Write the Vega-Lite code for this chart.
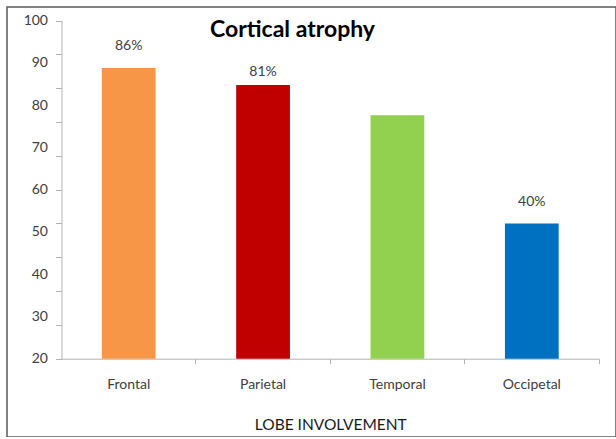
{
  "$schema": "https://vega.github.io/schema/vega-lite/v6.json",
  "autosize": "none",
  "padding": {"left": 7, "top": 7, "right": 0, "bottom": 0},
  "width": 609,
  "height": 430,
  "background": "white",
  "config": {"view": {"stroke": "#595959", "strokeWidth": 1.5}, "font": "Lato"},
  "data": {
    "values": [
      {"lobe": "Frontal", "value": 86, "label": "86%"},
      {"lobe": "Parietal", "value": 81, "label": "81%"},
      {"lobe": "Temporal", "value": 72, "label": ""},
      {"lobe": "Occipetal", "value": 40, "label": "40%"}
    ]
  },
  "encoding": {
    "x": {
      "field": "lobe", "type": "nominal", "sort": null,
      "scale": {"range": [54.5, 592], "paddingInner": 0, "paddingOuter": 0},
      "axis": {
        "orient": "bottom", "offset": -78.3, "bandPosition": 1, "tickSize": 5,
        "labelAngle": 0, "labelPadding": 14, "labelFontSize": 14, "labelColor": "#404040", "labelFont": "Lato",
        "title": "LOBE INVOLVEMENT", "titleFontSize": 15.5, "titleFontWeight": "normal", "titleColor": "#1a1a1a", "titleFont": "Lato", "titlePadding": 26,
        "domainColor": "#b3b3b3", "tickColor": "#b3b3b3", "grid": false
      }
    },
    "y": {
      "field": "value", "type": "quantitative",
      "scale": {"domain": [0, 100], "range": [351.7, 13.7], "nice": false, "zero": true},
      "axis": {
        "values": [0, 10, 12.5, 20, 25, 30, 37.5, 40, 50, 60, 62.5, 70, 75, 80, 87.5, 90, 100],
        "labelExpr": "datum.value % 12.5 == 0 ? format(20 + datum.value * 0.8, 'd') : ''",
        "offset": -54.5, "tickSize": 6,
        "tickOpacity": {"condition": {"test": "datum.value % 10 == 0", "value": 1}, "value": 0},
        "labelPadding": 8, "labelFontSize": 14, "labelColor": "#404040", "labelFont": "Lato",
        "labelOverlap": false, "labelFlush": false,
        "domainColor": "#b3b3b3", "tickColor": "#b3b3b3", "grid": false,
        "title": "Cortical atrophy", "titleAngle": 0, "titleX": 230.5, "titleY": 22,
        "titleAlign": "center", "titleBaseline": "middle", "titleFontSize": 23, "titleFontWeight": "bold",
        "titleColor": "#000000", "titleFont": "Lato"
      }
    }
  },
  "layer": [
    {
      "mark": {"type": "bar", "width": {"band": 0.4}},
      "encoding": {
        "color": {
          "field": "lobe", "type": "nominal",
          "scale": {"domain": ["Frontal", "Parietal", "Temporal", "Occipetal"], "range": ["#F79646", "#C00000", "#92D050", "#0070C0"]},
          "legend": null
        }
      }
    },
    {
      "transform": [{"filter": "datum.lobe != 'Parietal'"}],
      "mark": {"type": "text", "dy": -22, "fontSize": 14, "color": "#404040", "font": "Lato"},
      "encoding": {"text": {"field": "label"}}
    },
    {
      "transform": [{"filter": "datum.lobe == 'Parietal'"}],
      "mark": {"type": "text", "dy": -13, "fontSize": 14, "color": "#404040", "font": "Lato"},
      "encoding": {"text": {"field": "label"}}
    }
  ]
}
